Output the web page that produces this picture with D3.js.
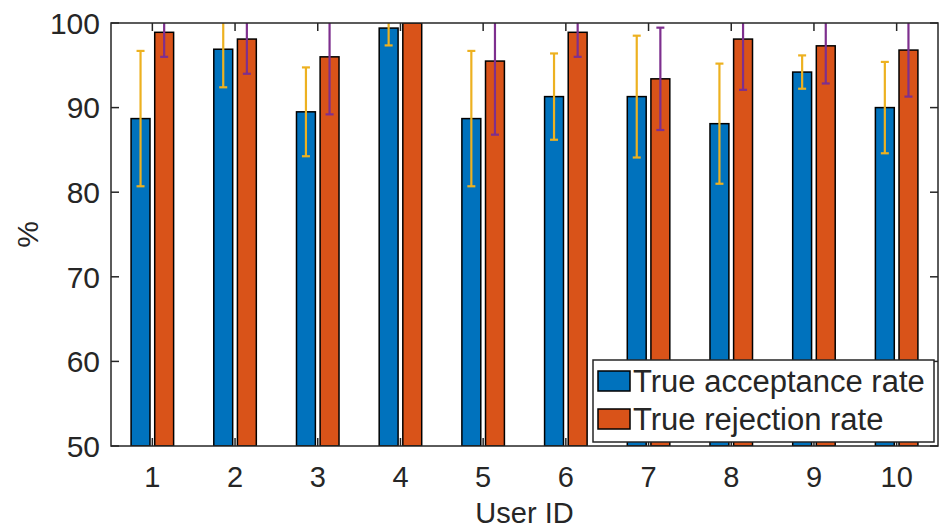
<!DOCTYPE html>
<html>
<head>
<meta charset="utf-8">
<script src="https://cdn.jsdelivr.net/npm/d3@7"></script>
<style>
  html, body { margin: 0; padding: 0; background: #fff; }
  svg { display: block; font-family: "Liberation Sans", Arial, Helvetica, sans-serif; }
</style>
</head>
<body>
<svg id="chart" width="939" height="529"></svg>
<script>
// ---- data ----
const userIds = [1, 2, 3, 4, 5, 6, 7, 8, 9, 10];
const tarValues = [88.7, 96.9, 89.5, 99.4, 88.7, 91.3, 91.3, 88.1, 94.2, 90.0];
const tarErrors = [8.0, 4.5, 5.25, 2.05, 8.0, 5.1, 7.2, 7.1, 1.97, 5.4];
const trrValues = [98.9, 98.1, 96.0, 100.0, 95.5, 98.9, 93.4, 98.1, 97.3, 96.8];
const trrErrors = [2.9, 4.1, 6.8, 0, 8.7, 2.9, 6.05, 6.0, 4.45, 5.5];
const yTicks = [50, 60, 70, 80, 90, 100];
const seriesNames = ["True acceptance rate", "True rejection rate"];
const seriesColors = ["#0072BD", "#D95319"];
const errorColors = ["#EDB120", "#7E2F8E"];

// ---- layout ----
const svg = d3.select("#chart");
const L = 111, R = 938, T = 23, B = 446;
const axisColor = "#262626";
const fontSize = 29;

const x = d3.scaleLinear().domain([0.5, 10.5]).range([L, R]);
const y = d3.scaleLinear().domain([50, 100]).range([B, T]);

// MATLAB grouped-bar geometry (in data units)
const groupWidth = 0.5714;
const barW = 0.8 * groupWidth / 2;
const offsets = [-groupWidth / 4, groupWidth / 4];

svg.append("defs").append("clipPath").attr("id", "clip")
  .append("rect").attr("x", L).attr("y", T).attr("width", R - L).attr("height", B - T);

const plot = svg.append("g").attr("clip-path", "url(#clip)");

const series = [
  { vals: tarValues, errs: tarErrors },
  { vals: trrValues, errs: trrErrors }
];

series.forEach((s, si) => {
  plot.selectAll(".bar" + si)
    .data(userIds)
    .join("rect")
    .attr("x", (d) => x(d + offsets[si] - barW / 2))
    .attr("width", (d) => x(d + offsets[si] + barW / 2) - x(d + offsets[si] - barW / 2))
    .attr("y", (d, i) => y(s.vals[i]))
    .attr("height", (d, i) => y(50) - y(s.vals[i]))
    .attr("fill", seriesColors[si])
    .attr("stroke", "#000")
    .attr("stroke-width", 1.5);
});

// error bars
series.forEach((s, si) => {
  const g = plot.append("g")
    .attr("stroke", errorColors[si])
    .attr("stroke-width", 2.2)
    .attr("fill", "none");
  userIds.forEach((d, i) => {
    if (!s.errs[i]) return;
    const cx = x(d + offsets[si]);
    const lo = y(s.vals[i] - s.errs[i]);
    const hi = y(s.vals[i] + s.errs[i]);
    g.append("line").attr("x1", cx).attr("x2", cx).attr("y1", lo).attr("y2", hi);
    g.append("line").attr("x1", cx - 4).attr("x2", cx + 4).attr("y1", lo).attr("y2", lo);
    g.append("line").attr("x1", cx - 4).attr("x2", cx + 4).attr("y1", hi).attr("y2", hi);
  });
});

// axes box
const axes = svg.append("g").attr("stroke", axisColor).attr("stroke-width", 1.5).attr("fill", "none");
axes.append("rect").attr("x", L).attr("y", T).attr("width", R - L).attr("height", B - T);

const tickLen = 8;
userIds.forEach((d) => {
  const xx = x(d);
  axes.append("line").attr("x1", xx).attr("x2", xx).attr("y1", B).attr("y2", B - tickLen);
  axes.append("line").attr("x1", xx).attr("x2", xx).attr("y1", T).attr("y2", T + tickLen);
});
yTicks.forEach((v) => {
  const yy = y(v);
  axes.append("line").attr("x1", L).attr("x2", L + tickLen).attr("y1", yy).attr("y2", yy);
  axes.append("line").attr("x1", R).attr("x2", R - tickLen).attr("y1", yy).attr("y2", yy);
});

// tick labels
svg.append("g").selectAll("text")
  .data(yTicks).join("text")
  .attr("x", L - 11)
  .attr("y", (v) => y(v))
  .attr("dy", "0.36em")
  .attr("text-anchor", "end")
  .attr("font-size", fontSize + 1)
  .attr("fill", axisColor)
  .text((v) => v);

svg.append("g").selectAll("text")
  .data(userIds).join("text")
  .attr("x", (d) => x(d))
  .attr("y", 487)
  .attr("text-anchor", "middle")
  .attr("font-size", fontSize)
  .attr("fill", axisColor)
  .text((d) => d);

// axis labels
svg.append("text")
  .attr("x", (L + R) / 2).attr("y", 523)
  .attr("text-anchor", "middle")
  .attr("font-size", fontSize)
  .attr("fill", axisColor)
  .text("User ID");

svg.append("text")
  .attr("transform", `translate(38, ${(T + B) / 2}) rotate(-90)`)
  .attr("text-anchor", "middle")
  .attr("font-size", fontSize + 1)
  .attr("fill", axisColor)
  .text("%");

// legend
const lg = svg.append("g");
lg.append("rect")
  .attr("x", 593).attr("y", 360).attr("width", 341).attr("height", 82)
  .attr("fill", "#fff").attr("stroke", axisColor).attr("stroke-width", 1.5);
seriesNames.forEach((name, i) => {
  const cy = 381 + i * 38;
  lg.append("rect")
    .attr("x", 598).attr("y", cy - 10).attr("width", 32).attr("height", 20)
    .attr("fill", seriesColors[i]).attr("stroke", "#000").attr("stroke-width", 1.5);
  lg.append("text")
    .attr("x", 633).attr("y", cy).attr("dy", "0.36em")
    .attr("font-size", 31)
    .attr("fill", axisColor)
    .text(name);
});
</script>
</body>
</html>
